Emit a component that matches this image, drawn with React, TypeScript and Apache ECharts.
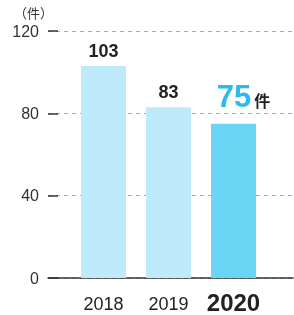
import React, { useEffect, useRef } from "react";
import * as echarts from "echarts";

const categories = ["2018", "2019", "2020"];
const values = [103, 83, 75];
const yTicks = [0, 40, 80, 120];
const unitLabel = "（件）";
const countUnit = "件";

const FONT = "'Liberation Sans', 'Noto Sans CJK JP', sans-serif";

export default function App() {
  const ref = useRef<HTMLDivElement>(null);
  useEffect(() => {
    if (!ref.current) return;
    const chart = echarts.init(ref.current, undefined, { renderer: "svg" });
    const yMin = yTicks[0];
    const yMax = yTicks[yTicks.length - 1];
    const yInterval = yTicks[1] - yTicks[0];
    const barData = values.map((v, i) => {
      const last = i === values.length - 1;
      return {
        value: v,
        itemStyle: { color: last ? "#6ad5f5" : "#bfeafa" },
        label: last
          ? {
              show: true,
              position: "top",
              distance: 12,
              offset: [10, 0],
              formatter: "{n|" + v + "}{u|" + countUnit + "}",
              rich: {
                n: { fontSize: 31, color: "#2cbaec", fontFamily: FONT, fontWeight: "bold", verticalAlign: "bottom", padding: [0, 3, 0, 0] },
                u: { fontSize: 16, color: "#222", fontFamily: FONT, fontWeight: "bold", verticalAlign: "bottom", padding: [0, 0, 2, 0] },
              },
            }
          : undefined,
      };
    });
    chart.setOption({
      animation: false,
      textStyle: { fontFamily: FONT },
      grid: [
        { left: 48, right: 1, top: 31, bottom: 37 },
        { left: 71, right: 28, top: 31, bottom: 37 },
      ],
      graphic: [
        {
          type: "text",
          left: 14,
          top: 7,
          style: { text: unitLabel, fontSize: 13, fill: "#333", fontFamily: FONT },
        },
      ],
      xAxis: [
        {
          gridIndex: 0,
          type: "value",
          min: 0,
          max: 1,
          axisLine: { show: true, onZero: false, lineStyle: { color: "#333", width: 1.5 } },
          axisTick: { show: false },
          axisLabel: { show: false },
          splitLine: { show: false },
        },
        {
          gridIndex: 1,
          type: "category",
          data: categories,
          axisLine: { show: false },
          axisTick: { show: false },
          axisLabel: {
            margin: 12,
            formatter: (v: string) => (v === categories[categories.length - 1] ? "{b|" + v + "}" : "{a|" + v + "}"),
            rich: {
              a: { fontSize: 18, color: "#222", fontFamily: FONT, padding: [5, 0, 0, 0] },
              b: { fontSize: 24, color: "#222", fontFamily: FONT, fontWeight: "bold" },
            },
          },
        },
      ],
      yAxis: [
        {
          gridIndex: 0,
          type: "value",
          min: yMin,
          max: yMax,
          interval: yInterval,
          axisLine: { show: false },
          axisTick: { show: true, inside: true, length: 10, lineStyle: { color: "#333", width: 1.5 } },
          axisLabel: { fontSize: 16, color: "#333", margin: 9, fontFamily: FONT },
          splitLine: { show: true, lineStyle: { color: "#aaa", type: [4, 4], width: 1 } },
        },
        {
          gridIndex: 1,
          type: "value",
          min: yMin,
          max: yMax,
          interval: yInterval,
          show: false,
          splitLine: { show: false },
        },
      ],
      series: [
        {
          type: "bar",
          xAxisIndex: 1,
          yAxisIndex: 1,
          data: barData,
          barWidth: 45,
          label: {
            show: true,
            position: "top",
            distance: 6,
            fontSize: 18,
            fontWeight: "bold",
            color: "#222",
            fontFamily: FONT,
          },
        },
      ],
    });
    return () => chart.dispose();
  }, []);
  return <div ref={ref} style={{ position: "fixed", left: 0, top: 0, width: 294, height: 315 }} />;
}
